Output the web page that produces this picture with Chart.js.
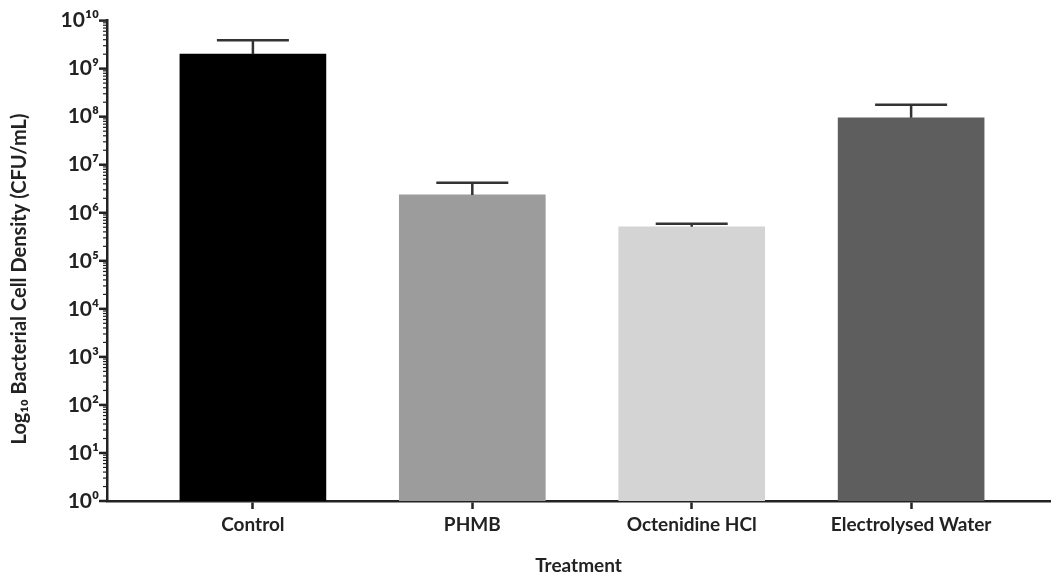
<!DOCTYPE html>
<html>
<head>
<meta charset="utf-8">
<script src="https://cdn.jsdelivr.net/npm/chart.js@4.4.1/dist/chart.umd.min.js"></script>
<style>
  html, body { margin: 0; padding: 0; background: #fff; }
  #wrap { width: 1058px; height: 577px; position: relative; }
</style>
</head>
<body>
<div id="wrap"><canvas id="chart"></canvas></div>
<script>
/* ---- data ---- */
const categories = ['Control', 'PHMB', 'Octenidine HCl', 'Electrolysed Water'];
const means = [2.0e9, 2.35e6, 5.1e5, 9.5e7];
const upperErr = [3.9e9, 4.2e6, 5.9e5, 1.78e8];
const barColors = ['#000000', '#9c9c9c', '#d4d4d4', '#5e5e5e'];
const decades = [0, 1, 2, 3, 4, 5, 6, 7, 8, 9, 10];
const yTitle = 'Log₁₀ Bacterial Cell Density (CFU/mL)';

const SUP = { '0': '⁰', '1': '¹', '2': '²', '3': '³', '4': '⁴', '5': '⁵', '6': '⁶', '7': '⁷', '8': '⁸', '9': '⁹' };
const sup = n => String(n).split('').map(c => SUP[c]).join('');

const FONT = 'Lato, "Open Sans", sans-serif';
const INK = '#222';

// error bars, y tick marks and the y title (sits a bit low in the original)
const extrasPlugin = {
  id: 'extras',
  afterDatasetsDraw(chart) {
    const { ctx, scales } = chart;
    const x = scales.x, y = scales.y;
    ctx.save();
    ctx.strokeStyle = '#333';
    ctx.lineWidth = 2.5;
    upperErr.forEach((v, i) => {
      const cx = x.getPixelForValue(i);
      const yTop = y.getPixelForValue(means[i]);
      const yCap = y.getPixelForValue(v);
      ctx.beginPath();
      ctx.moveTo(cx, yTop);
      ctx.lineTo(cx, yCap);
      ctx.moveTo(cx - 36, yCap);
      ctx.lineTo(cx + 36, yCap);
      ctx.stroke();
    });
    // y ticks: major and minor
    const left = chart.chartArea.left;
    ctx.strokeStyle = '#222';
    decades.forEach(d => {
      for (let m = 1; m <= 9; m++) {
        if (d === 10 && m > 1) break;
        const py = y.getPixelForValue(m * Math.pow(10, d));
        ctx.lineWidth = m === 1 ? 2.5 : 1.2;
        const len = m === 1 ? 8 : 4;
        ctx.beginPath();
        ctx.moveTo(left - len, py);
        ctx.lineTo(left, py);
        ctx.stroke();
      }
    });
    // y title
    ctx.translate(20, 279);
    ctx.rotate(-Math.PI / 2);
    ctx.fillStyle = INK;
    ctx.font = 'bold 20px ' + FONT;
    ctx.textAlign = 'center';
    ctx.textBaseline = 'middle';
    ctx.fillText(yTitle, 0, 0);
    ctx.restore();
  }
};

new Chart(document.getElementById('chart'), {
  type: 'bar',
  data: {
    datasets: [{
      data: means.map((v, i) => ({ x: i, y: v })),
      backgroundColor: barColors,
      borderWidth: 0,
      barThickness: 146,
    }]
  },
  options: {
    responsive: true,
    maintainAspectRatio: false,
    animation: false,
    layout: { padding: { top: 16, right: 8, left: 6, bottom: 0 } },
    plugins: { legend: { display: false }, tooltip: { enabled: false } },
    scales: {
      x: {
        type: 'linear',
        offset: false,
        min: -0.665,
        max: 3.633,
        afterBuildTicks: s => { s.ticks = categories.map((_, i) => ({ value: i })); },
        afterFit: s => { s.height = 76; },
        grid: { offset: false, drawOnChartArea: false, tickLength: 8, tickWidth: 2.5, tickColor: '#222' },
        border: { color: '#222', width: 2.5 },
        ticks: {
          color: INK,
          font: { family: FONT, size: 19, weight: 'bold' },
          padding: 4,
          callback: v => categories[v] ?? ''
        },
        title: {
          display: true,
          text: 'Treatment',
          color: INK,
          font: { family: FONT, size: 19, weight: 'bold' },
          padding: { top: 4, bottom: 0 }
        }
      },
      y: {
        type: 'logarithmic',
        min: 1,
        max: 1e10,
        afterBuildTicks: s => { s.ticks = decades.map(d => ({ value: Math.pow(10, d), major: true })); },
        afterFit: s => { s.width = 101; },
        grid: { display: false, drawTicks: false },
        border: { color: '#222', width: 2.5 },
        ticks: {
          color: INK,
          font: { family: FONT, size: 21, weight: 'bold' },
          padding: 8,
          callback: v => '10' + sup(Math.round(Math.log10(v)))
        },
        title: { display: false }
      }
    }
  },
  plugins: [extrasPlugin]
});
</script>
</body>
</html>
